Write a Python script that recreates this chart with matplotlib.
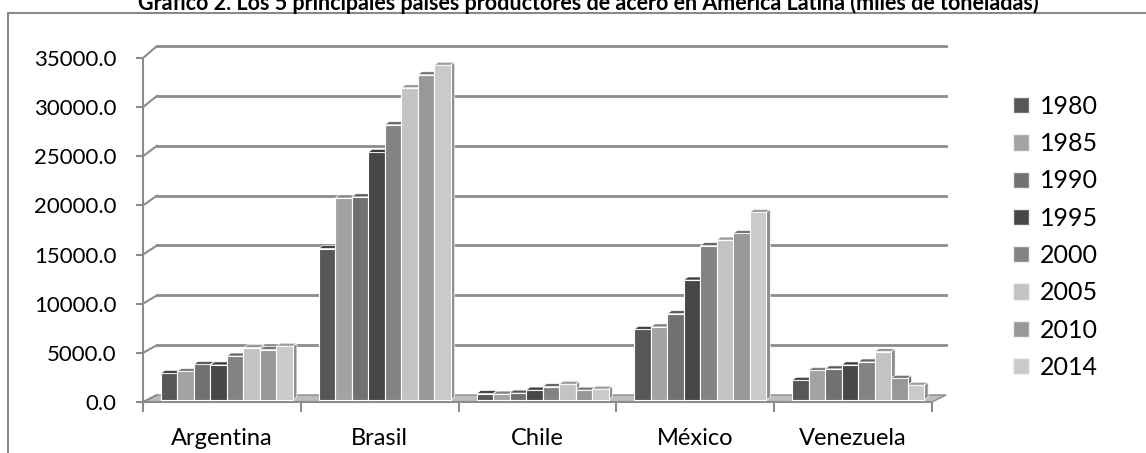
import matplotlib.pyplot as plt
from matplotlib.patches import Polygon, Rectangle

# Data (miles de toneladas)
countries = ['Argentina', 'Brasil', 'Chile', 'México', 'Venezuela']
years = ['1980', '1985', '1990', '1995', '2000', '2005', '2010', '2014']
argentina = [2700, 2900, 3600, 3550, 4450, 5300, 5100, 5450]
brasil = [15337, 20455, 20567, 25076, 27865, 31610, 32928, 33897]
chile = [650, 600, 700, 1000, 1350, 1600, 1000, 1100]
mexico = [7156, 7399, 8734, 12147, 15631, 16195, 16870, 18995]
venezuela = [2000, 3000, 3150, 3550, 3850, 4900, 2200, 1500]
series_by_country = [argentina, brasil, chile, mexico, venezuela]

colors = ['#575757', '#a3a3a3', '#717171', '#474747', '#838383', '#c3c3c3', '#989898', '#cacaca']

plt.rcParams['font.family'] = ['Lato', 'DejaVu Sans']

W, H = 1146, 453
fig = plt.figure(figsize=(W / 100, H / 100), dpi=100)

# front plane of the plot in pixels
px_left, px_right, px_y0, px_ytop = 143, 932, 402, 58
ax = fig.add_axes([px_left / W, 1 - px_y0 / H, (px_right - px_left) / W, (px_y0 - px_ytop) / H])
ymax = 35000
ax.set_xlim(0, 5)
ax.set_ylim(0, ymax)

ux = (px_right - px_left) / 5          # px per x unit
uy = (px_y0 - px_ytop) / ymax          # px per y unit
grid_c = '#8c8c8c'

# back wall offsets
dx = 14 / ux
back0 = 7 / uy
kback = 349 / 344

def back_y(v):
    return back0 + v * kback

# floor
floor = Polygon([(0, 0), (5, 0), (5 + dx, back_y(0)), (dx, back_y(0))],
                closed=True, facecolor='#bdbdbd', edgecolor=grid_c, lw=1, clip_on=False, zorder=1)
ax.add_patch(floor)

# gridlines on back wall + diagonal on the side wall
yticks = list(range(0, ymax + 1, 5000))
for v in yticks:
    ax.plot([0, dx], [v, back_y(v)], color=grid_c, lw=1.5, clip_on=False, zorder=1)
    if v > 0:
        ax.plot([dx, 5 + dx], [back_y(v), back_y(v)], color=grid_c, lw=2, clip_on=False, zorder=1)

# bars with a small 3D look
bar_w = 0.1045
start = 0.114
base = 2 / uy
kbar = 1.005
sdx = 4 / ux
sdy = 3 / uy

def shade(c, f):
    r, g, b = [int(c[i:i + 2], 16) for i in (1, 3, 5)]
    return '#%02x%02x%02x' % (int(r * f), int(g * f), int(b * f))

for i, vals in enumerate(series_by_country):
    for j, v in enumerate(vals):
        xl = i + start + j * bar_w
        xr = xl + bar_w
        top = base + v * kbar
        front = Rectangle((xl, base), bar_w, top - base, facecolor=colors[j],
                          edgecolor='white', lw=0.8, clip_on=False, zorder=3 + j * 0.1)
        side = Polygon([(xr, base), (xr + sdx, base + sdy), (xr + sdx, top + sdy), (xr, top)],
                       closed=True, facecolor=shade(colors[j], 0.7), edgecolor='white',
                       lw=0.5, clip_on=False, zorder=3 + j * 0.1)
        cap = Polygon([(xl, top), (xr, top), (xr + sdx, top + sdy), (xl + sdx, top + sdy)],
                      closed=True, facecolor=shade(colors[j], 0.78), edgecolor='white',
                      lw=0.5, clip_on=False, zorder=3 + j * 0.1)
        ax.add_patch(side)
        ax.add_patch(front)
        ax.add_patch(cap)

# legend
handles = [Rectangle((0, 0), 1, 1, facecolor=c, edgecolor='#f0f0f0') for c in colors]
fig.legend(handles, years, loc='upper left', bbox_to_anchor=(1003 / W, 1 - 85 / H),
           frameon=False, fontsize=18, handlelength=0.62, handleheight=0.62,
           handletextpad=0.45, labelspacing=0.57, borderaxespad=0)

# axes styling
for s in ['top', 'right']:
    ax.spines[s].set_visible(False)
ax.spines['left'].set_color(grid_c)
ax.spines['bottom'].set_color(grid_c)
ax.spines['left'].set_linewidth(1.5)
ax.spines['bottom'].set_linewidth(1.5)
ax.set_yticks(yticks)
ax.set_yticklabels(['%.1f' % v for v in yticks], fontsize=16)
ax.tick_params(axis='y', length=5, color=grid_c, width=1.5, pad=14)
ax.set_xticks(range(6))
ax.set_xticklabels([])
ax.set_xticks([i + 0.5 for i in range(5)], minor=True)
ax.set_xticklabels(countries, minor=True, fontsize=17)
ax.tick_params(axis='x', which='major', length=7, color=grid_c, width=1.5)
ax.tick_params(axis='x', which='minor', length=0, pad=19)
ax.patch.set_alpha(0)

# chart border and title
fig.patches.append(Rectangle((8 / W, -0.1), 1.2, 1 - 13 / H + 0.1, transform=fig.transFigure,
                             fill=False, edgecolor='#8a8a8a', lw=1.5, zorder=0))
fig.text(588 / W, 1 - 10 / H,
         'Gráfico 2. Los 5 principales países productores de acero en América Latina (miles de toneladas)',
         ha='center', va='baseline', fontsize=15.5, fontweight='bold')

fig.savefig('out.png', dpi=100)
